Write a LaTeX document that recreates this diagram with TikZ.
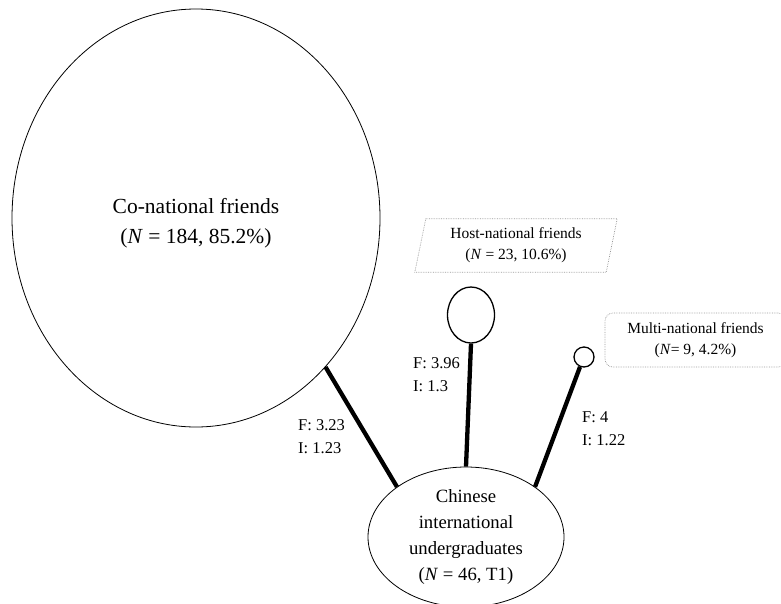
\documentclass[tikz,border=0pt]{standalone}
\usepackage{fontspec}
\setmainfont{Liberation Serif}
\usetikzlibrary{shapes.geometric}
\begin{document}
\begin{tikzpicture}[x=1pt,y=-1pt,
  bub/.style={ellipse, draw, line width=0.8pt, inner sep=0pt, align=center},
  dotbub/.style={draw, line width=1.3pt, inner sep=0pt},
  tie/.style={line width=4.3pt},
  lbl/.style={anchor=north west, align=left, inner sep=0pt, font=\fontsize{16.5}{23}\selectfont},
  tag/.style={draw=gray!80, densely dotted, line width=0.7pt},
  tagtext/.style={inner sep=0pt, align=center, font=\fontsize{15.5}{21}\selectfont}
]
\useasboundingbox (0,0) rectangle (781,603);
% big bubble
\node[bub, minimum width=368pt, minimum height=418pt, font=\fontsize{21.5}{30}\selectfont] (co) at (196,218)
  {\rule{0pt}{24.7pt}Co-national friends\\(\textit{N} = 184, 85.2\%)};
% students
\node[bub, minimum width=196pt, minimum height=140pt, font=\fontsize{18.7}{25.7}\selectfont] (chn) at (466,537)
  {Chinese\\international\\undergraduates\\(\textit{N} = 46, T1)};
% small bubbles
\node[dotbub, ellipse, minimum width=47pt, minimum height=56pt] (hst) at (471,315) {};
\node[dotbub, circle, minimum size=20pt] (mlt) at (584,357) {};
% host tag (parallelogram)
\node[tagtext, minimum width=191pt, minimum height=53pt] (hbox) at (516,245.5)
  {Host-national friends\\(\textit{N} = 23, 10.6\%)};
\draw[tag] ([xshift=5.5pt]hbox.north west) -- ([xshift=5.5pt]hbox.north east)
  -- ([xshift=-5.5pt]hbox.south east) -- ([xshift=-5.5pt]hbox.south west) -- cycle;
% multi tag
\node[tagtext, tag, rounded corners=8pt, minimum width=181pt, minimum height=54pt] (mbox) at (695.5,340)
  {Multi-national friends\\(\textit{N}= 9, 4.2\%)};
% ties
\draw[tie] (co.-49.3) -- (chn.144);
\draw[tie] (hst.south) -- (chn.north);
\draw[tie] (mlt.-112) -- (chn.36);
% labels
\node[lbl] (l1) at (298,419) {F: 3.23\\I: 1.23};
\node[lbl] (l2) at (413,357) {F: 3.96\\I: 1.3};
\node[lbl] (l3) at (582,411) {F: 4\\I: 1.22};
\end{tikzpicture}
\end{document}
